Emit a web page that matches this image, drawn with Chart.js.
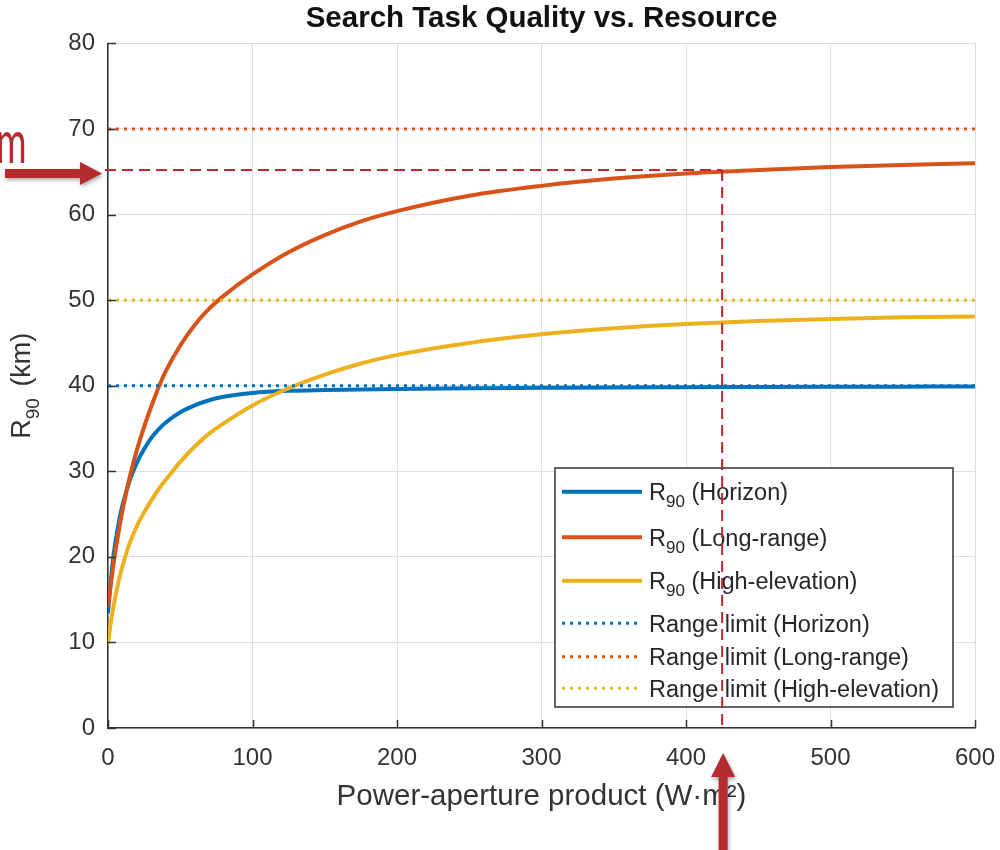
<!DOCTYPE html>
<html>
<head>
<meta charset="utf-8">
<title>Search Task Quality vs. Resource</title>
<script src="https://cdn.jsdelivr.net/npm/chart.js@4.4.1/dist/chart.umd.min.js"></script>
<style>
  html, body { margin: 0; padding: 0; background: #ffffff; }
  canvas { display: block; }
</style>
</head>
<body>
<canvas id="chart" width="1000" height="850"></canvas>
<script>
// Power-aperture product samples (W·m²)
const powerAperture = [0, 2, 4, 6, 8, 10, 15, 20, 25, 30, 35, 40, 50, 60, 70, 80, 100, 125, 150, 175, 200, 250, 300, 350, 400, 450, 500, 550, 600];

// R90 (km) for each search scenario
const r90Horizon   = [13.4, 17.3, 20.4, 22.6, 24.5, 26.0, 28.9, 31.0, 32.6, 33.9, 34.9, 35.7, 36.9, 37.7, 38.3, 38.7, 39.15, 39.4, 39.5, 39.57, 39.62, 39.7, 39.75, 39.8, 39.82, 39.85, 39.87, 39.89, 39.9];
const r90LongRange = [14.2, 16.9, 19.4, 21.6, 23.6, 25.4, 29.3, 32.5, 35.2, 37.6, 39.8, 41.7, 44.7, 47.1, 49.0, 50.5, 53.0, 55.6, 57.6, 59.2, 60.4, 62.2, 63.35, 64.2, 64.8, 65.2, 65.55, 65.8, 66.0];
const r90HighElev  = [9.9, 12.4, 14.4, 16.1, 17.6, 18.9, 21.6, 23.6, 25.2, 26.6, 27.9, 29.0, 31.1, 32.9, 34.4, 35.6, 37.7, 39.7, 41.3, 42.6, 43.6, 45.0, 46.0, 46.7, 47.2, 47.55, 47.8, 48.0, 48.1];

// Instrumented range limits (km)
const rangeLimits = [40, 70, 50];
const scenarioNames = ['Horizon', 'Long-range', 'High-elevation'];

// Axis ticks
const xTicks = [0, 100, 200, 300, 400, 500, 600];
const yTicks = [0, 10, 20, 30, 40, 50, 60, 70, 80];

// Highlighted operating point
const markedPower = 425;
const markedRange = 65.2;

const colors = ['#0072BD', '#D95319', '#EDB120'];
const axisColor = '#333333';
const fontFamily = "'Liberation Sans', Arial, Helvetica, sans-serif";
const annotRed = '#C0282D';
const arrowRed = '#B32D2E';

const toPoints = ys => powerAperture.map((p, i) => ({ x: p, y: ys[i] }));
const flatLine = v => [{ x: xTicks[0], y: v }, { x: xTicks[xTicks.length - 1], y: v }];

const curveSeries = [r90Horizon, r90LongRange, r90HighElev];

const datasets = [];
curveSeries.forEach((ys, i) => {
  datasets.push({
    label: 'R90 (' + scenarioNames[i] + ')',
    data: toPoints(ys),
    borderColor: colors[i],
    borderWidth: 4,
    pointRadius: 0,
    fill: false,
    cubicInterpolationMode: 'monotone',
    kind: 'solid'
  });
});
rangeLimits.forEach((v, i) => {
  datasets.push({
    label: 'Range limit (' + scenarioNames[i] + ')',
    data: flatLine(v),
    borderColor: colors[i],
    borderWidth: 3,
    borderDash: [3, 5],
    borderCapStyle: 'butt',
    pointRadius: 0,
    fill: false,
    kind: 'dotted'
  });
});
// later series are painted over earlier ones
datasets.forEach((d, i) => { d.order = datasets.length - i; });

// Inward tick marks on the left and bottom axes
const inwardTicks = {
  id: 'inwardTicks',
  afterDatasetsDraw(chart) {
    const { ctx, chartArea, scales } = chart;
    ctx.save();
    ctx.strokeStyle = axisColor;
    ctx.lineWidth = 1.5;
    ctx.beginPath();
    xTicks.forEach(t => {
      const px = Math.round(scales.x.getPixelForValue(t)) + 0.5;
      ctx.moveTo(px, chartArea.bottom);
      ctx.lineTo(px, chartArea.bottom - 8);
    });
    yTicks.forEach(t => {
      const py = Math.round(scales.y.getPixelForValue(t)) + 0.5;
      ctx.moveTo(chartArea.left, py);
      ctx.lineTo(chartArea.left + 8, py);
    });
    ctx.stroke();
    ctx.restore();
  }
};

// Boxed legend with subscripted R90 entries
const boxedLegend = {
  id: 'boxedLegend',
  afterDatasetsDraw(chart) {
    const { ctx, chartArea } = chart;
    const w = 398, h = 239;
    const x0 = chartArea.right - 22 - w;
    const y0 = chartArea.bottom - 21 - h;
    ctx.save();
    ctx.fillStyle = '#ffffff';
    ctx.fillRect(x0, y0, w, h);
    ctx.strokeStyle = '#333333';
    ctx.lineWidth = 1.5;
    ctx.strokeRect(x0, y0, w, h);

    const rowY = [23.7, 69.3, 112.7, 155.3, 188.7, 220.3];
    const mainFont = '23.5px ' + fontFamily;
    const subFont = '17px ' + fontFamily;
    datasets.forEach((d, i) => {
      const ly = y0 + rowY[i];
      ctx.save();
      ctx.strokeStyle = d.borderColor;
      ctx.lineWidth = d.borderWidth;
      ctx.setLineDash(d.kind === 'dotted' ? [3, 5] : []);
      ctx.beginPath();
      ctx.moveTo(x0 + 7, ly);
      ctx.lineTo(x0 + 87, ly);
      ctx.stroke();
      ctx.restore();

      ctx.fillStyle = '#262626';
      ctx.textBaseline = 'alphabetic';
      ctx.textAlign = 'left';
      const base = ly + 8.4;
      let tx = x0 + 94;
      if (d.kind === 'solid') {
        ctx.font = mainFont;
        ctx.fillText('R', tx, base);
        tx += ctx.measureText('R').width;
        ctx.font = subFont;
        ctx.fillText('90', tx, base + 7);
        tx += ctx.measureText('90').width;
        ctx.font = mainFont;
        ctx.fillText(' (' + scenarioNames[i] + ')', tx, base);
      } else {
        ctx.font = mainFont;
        ctx.fillText(d.label, tx, base);
      }
    });
    ctx.restore();
  }
};

// Y-axis title with subscript, plus the highlighted operating point
const overlay = {
  id: 'overlay',
  afterDraw(chart) {
    const { ctx, chartArea, scales } = chart;
    ctx.save();

    // rotated y-axis title: R90 (km)
    const mainF = '27px ' + fontFamily;
    const subF = '19px ' + fontFamily;
    ctx.font = mainF;
    const wR = ctx.measureText('R').width;
    const wRest = ctx.measureText(' (km)').width;
    ctx.font = subF;
    const w90 = ctx.measureText('90').width;
    const total = wR + w90 + wRest + 4;
    const cy = (chartArea.top + chartArea.bottom) / 2;
    ctx.translate(30, cy);
    ctx.rotate(-Math.PI / 2);
    ctx.fillStyle = axisColor;
    ctx.textBaseline = 'alphabetic';
    ctx.textAlign = 'left';
    let tx = -total / 2;
    ctx.font = mainF;
    ctx.fillText('R', tx, 0);
    tx += wR;
    ctx.font = subF;
    ctx.fillText('90', tx, 9);
    tx += w90 + 4;
    ctx.font = mainF;
    ctx.fillText(' (km)', tx, 0);
    ctx.restore();

    // dashed guide lines through the operating point
    const px = scales.x.getPixelForValue(markedPower);
    const py = scales.y.getPixelForValue(markedRange);
    ctx.save();
    ctx.strokeStyle = annotRed;
    ctx.lineWidth = 2;
    ctx.setLineDash([11, 6]);
    ctx.beginPath();
    ctx.moveTo(chartArea.left - 3, py);
    ctx.lineTo(px, py);
    ctx.stroke();
    ctx.beginPath();
    ctx.moveTo(px, py);
    ctx.lineTo(px, chartArea.bottom);
    ctx.stroke();
    ctx.restore();

    // arrows pointing at the guide lines
    ctx.save();
    ctx.fillStyle = arrowRed;
    ctx.shadowColor = 'rgba(0,0,0,0.35)';
    ctx.shadowBlur = 4;
    ctx.shadowOffsetX = 1;
    ctx.shadowOffsetY = 2;
    const ay = py + 3.5;
    const tipX = chartArea.left - 6;
    ctx.beginPath();
    ctx.moveTo(5, ay - 4.5);
    ctx.lineTo(tipX - 22, ay - 4.5);
    ctx.lineTo(tipX - 22, ay - 11.5);
    ctx.lineTo(tipX, ay);
    ctx.lineTo(tipX - 22, ay + 11.5);
    ctx.lineTo(tipX - 22, ay + 4.5);
    ctx.lineTo(5, ay + 4.5);
    ctx.closePath();
    ctx.fill();

    const ax = px + 1;
    const tipY = chartArea.bottom + 25;
    ctx.beginPath();
    ctx.moveTo(ax - 4.5, 852);
    ctx.lineTo(ax - 4.5, tipY + 24);
    ctx.lineTo(ax - 12, tipY + 24);
    ctx.lineTo(ax, tipY);
    ctx.lineTo(ax + 12, tipY + 24);
    ctx.lineTo(ax + 4.5, tipY + 24);
    ctx.lineTo(ax + 4.5, 852);
    ctx.closePath();
    ctx.fill();
    ctx.restore();

    // unit of the highlighted range, at the figure edge
    ctx.save();
    ctx.fillStyle = arrowRed;
    ctx.translate(-4, py - 7);
    ctx.scale(0.62, 1);
    ctx.font = "60px Lato, 'Open Sans', sans-serif";
    ctx.textBaseline = 'alphabetic';
    ctx.textAlign = 'left';
    ctx.fillText('m', 0, 0);
    ctx.restore();
  }
};

new Chart(document.getElementById('chart'), {
  type: 'line',
  data: { datasets },
  plugins: [inwardTicks, boxedLegend, overlay],
  options: {
    responsive: false,
    animation: false,
    devicePixelRatio: 1,
    layout: { padding: { top: 0, right: 25, bottom: 0, left: 0 } },
    plugins: {
      legend: { display: false },
      tooltip: { enabled: false },
      title: {
        display: true,
        fullSize: false,
        text: 'Search Task Quality vs. Resource',
        color: '#111111',
        font: { family: fontFamily, size: 29.5, weight: 'bold' },
        padding: { top: 1, bottom: 7 }
      }
    },
    scales: {
      x: {
        type: 'linear',
        min: xTicks[0],
        max: xTicks[xTicks.length - 1],
        afterBuildTicks(scale) { scale.ticks = xTicks.map(v => ({ value: v })); },
        afterFit(scale) { scale.height = 122; scale.paddingRight = 0; scale.paddingLeft = 0; },
        ticks: {
          color: axisColor,
          font: { family: fontFamily, size: 24 },
          padding: 16,
          maxRotation: 0,
          autoSkip: false
        },
        grid: { color: '#dedede', lineWidth: 1, drawTicks: false },
        border: { display: true, color: axisColor, width: 1.5 },
        title: {
          display: true,
          text: 'Power-aperture product (W·m²)',
          color: axisColor,
          font: { family: fontFamily, size: 29.5 },
          padding: { top: 0, bottom: 35 }
        }
      },
      y: {
        type: 'linear',
        min: yTicks[0],
        max: yTicks[yTicks.length - 1],
        afterBuildTicks(scale) { scale.ticks = yTicks.map(v => ({ value: v })); },
        afterFit(scale) { scale.width = 108; },
        ticks: {
          color: axisColor,
          font: { family: fontFamily, size: 24 },
          padding: 13
        },
        grid: { color: '#dedede', lineWidth: 1, drawTicks: false },
        border: { display: true, color: axisColor, width: 1.5 }
      }
    }
  }
});
</script>
</body>
</html>
